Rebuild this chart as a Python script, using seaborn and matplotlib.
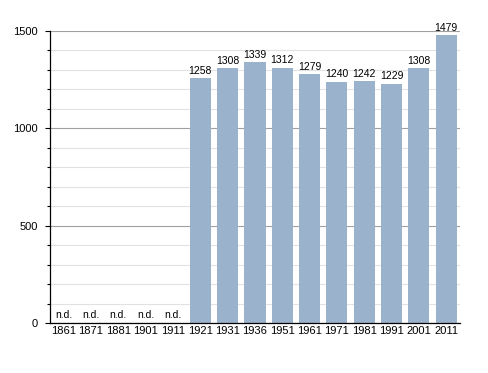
import matplotlib
matplotlib.use("Agg")
import matplotlib.pyplot as plt
import seaborn as sns
import numpy as np
import pandas as pd
from matplotlib.ticker import MultipleLocator

# Datos
years = ["1861", "1871", "1881", "1901", "1911", "1921", "1931", "1936",
         "1951", "1961", "1971", "1981", "1991", "2001", "2011"]
population = [np.nan, np.nan, np.nan, np.nan, np.nan, 1258, 1308, 1339,
              1312, 1279, 1240, 1242, 1229, 1308, 1479]

df = pd.DataFrame({"year": years, "pop": population})

sns.set_theme(style="white")
plt.rcParams["font.family"] = ["Liberation Sans", "DejaVu Sans"]

fig = plt.figure(figsize=(4.88, 3.73), dpi=100)
ax = fig.add_axes([0.1025, 0.134, 0.84, 0.783])
ax.set_axisbelow(True)

sns.barplot(data=df, x="year", y="pop", color="#9bb2cd", saturation=1,
            width=0.77, linewidth=0, ax=ax)

ax.set_ylim(0, 1500)
ax.set_xlim(-0.5, len(years) - 0.5)
ax.yaxis.set_major_locator(MultipleLocator(500))
ax.yaxis.set_minor_locator(MultipleLocator(100))
ax.grid(axis="y", which="major", color="#a0a0a0", linewidth=0.8)
ax.grid(axis="y", which="minor", color="#e2e2e2", linewidth=0.8)

for s in ["top", "right"]:
    ax.spines[s].set_visible(False)
ax.spines["left"].set_color("black")
ax.spines["bottom"].set_color("black")
ax.spines["left"].set_linewidth(0.9)
ax.spines["bottom"].set_linewidth(0.9)

ax.tick_params(axis="y", which="major", left=True, length=3.5, width=0.8,
               labelsize=8, pad=5, color="black", labelcolor="black")
ax.tick_params(axis="y", which="minor", left=True, length=2.2, width=0.8, color="black")
ax.tick_params(axis="x", bottom=False, length=0, labelsize=8, pad=2.5, labelcolor="black")
ax.set_xlabel("")
ax.set_ylabel("")

# Etiquetas de valores
for i, v in enumerate(population):
    if np.isnan(v):
        ax.text(i, 15, "n.d.", ha="center", va="bottom", fontsize=7.5, color="black")
    else:
        ax.text(i, v + 12, f"{int(v)}", ha="center", va="bottom", fontsize=7.5, color="black")

fig.savefig("out.png", dpi=100)
